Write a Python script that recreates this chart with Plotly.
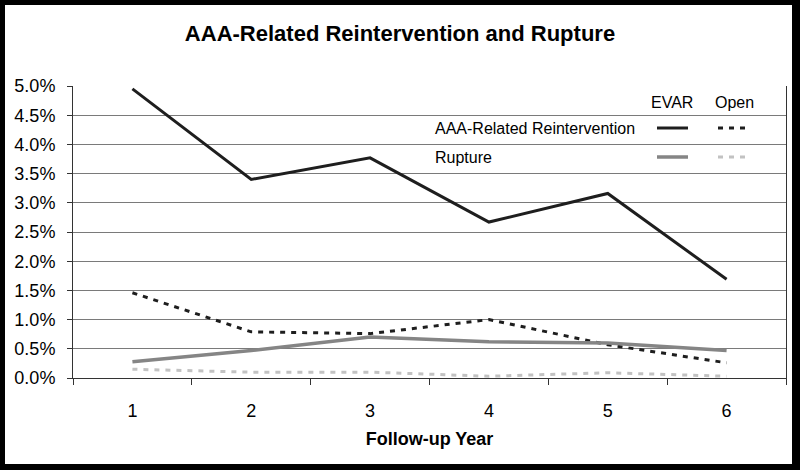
import plotly.graph_objects as go

years = ["1", "2", "3", "4", "5", "6"]
evar_reint = [4.95, 3.40, 3.77, 2.67, 3.16, 1.69]
open_reint = [1.46, 0.79, 0.76, 1.00, 0.57, 0.26]
evar_rupture = [0.28, 0.47, 0.70, 0.62, 0.60, 0.47]
open_rupture = [0.15, 0.10, 0.10, 0.03, 0.09, 0.03]
y_ticks = [0, 0.5, 1.0, 1.5, 2.0, 2.5, 3.0, 3.5, 4.0, 4.5, 5.0]
y_ticklabels = [f"{v:.1f}%" for v in y_ticks]

W, H = 800, 470
ML, MR, MT, MB = 73, 14, 86, 92
PW, PH = W - ML - MR, H - MT - MB

def px_x(p):
    return (p - ML) / PW

def px_y(p):
    return (H - MB - p) / PH

FONT = "Liberation Sans, Arial, sans-serif"

fig = go.Figure()
fig.add_trace(go.Scatter(x=years, y=evar_reint, mode="lines",
                         line=dict(color="#1e1e1e", width=3), name="EVAR reintervention"))
fig.add_trace(go.Scatter(x=years, y=open_reint, mode="lines",
                         line=dict(color="#1e1e1e", width=3, dash="5px,6px"), name="Open reintervention"))
fig.add_trace(go.Scatter(x=years, y=evar_rupture, mode="lines",
                         line=dict(color="#858585", width=3.5), name="EVAR rupture"))
fig.add_trace(go.Scatter(x=years, y=open_rupture, mode="lines",
                         line=dict(color="#c2c2c2", width=3, dash="5px,6px"), name="Open rupture"))

shapes = [
    # white page inside black frame
    dict(type="rect", xref="paper", yref="paper", layer="below",
         x0=px_x(5), x1=px_x(792), y0=px_y(464), y1=px_y(5),
         fillcolor="white", line=dict(width=0)),
    # legend samples
    dict(type="line", xref="paper", yref="paper", x0=px_x(657), x1=px_x(688),
         y0=px_y(128), y1=px_y(128), line=dict(color="#1e1e1e", width=3)),
    dict(type="line", xref="paper", yref="paper", x0=px_x(718), x1=px_x(750),
         y0=px_y(128), y1=px_y(128), line=dict(color="#1e1e1e", width=3, dash="5px,6px")),
    dict(type="line", xref="paper", yref="paper", x0=px_x(657), x1=px_x(688),
         y0=px_y(157), y1=px_y(157), line=dict(color="#858585", width=3.5)),
    dict(type="line", xref="paper", yref="paper", x0=px_x(718), x1=px_x(750),
         y0=px_y(157), y1=px_y(157), line=dict(color="#c2c2c2", width=3, dash="5px,6px")),
]

annotations = [
    dict(text="EVAR", x=px_x(672), y=px_y(102), xref="paper", yref="paper",
         showarrow=False, xanchor="center", yanchor="middle", font=dict(size=16, color="black", family=FONT)),
    dict(text="Open", x=px_x(734), y=px_y(102), xref="paper", yref="paper",
         showarrow=False, xanchor="center", yanchor="middle", font=dict(size=16, color="black", family=FONT)),
    dict(text="AAA-Related Reintervention", x=px_x(433), y=px_y(128), xref="paper", yref="paper",
         showarrow=False, xanchor="left", yanchor="middle", font=dict(size=16, color="black", family=FONT)),
    dict(text="Rupture", x=px_x(433), y=px_y(157), xref="paper", yref="paper",
         showarrow=False, xanchor="left", yanchor="middle", font=dict(size=16, color="black", family=FONT)),
]

fig.update_layout(
    width=W, height=H,
    margin=dict(l=ML, r=MR, t=MT, b=MB, pad=0),
    paper_bgcolor="black", plot_bgcolor="white",
    showlegend=False,
    title=dict(text="<b>AAA-Related Reintervention and Rupture</b>",
               xref="paper", x=(400 - ML) / PW, xanchor="center",
               y=1 - 33 / H, yanchor="middle",
               font=dict(size=22, color="black", family=FONT)),
    font=dict(family=FONT, color="black"),
    shapes=shapes, annotations=annotations,
)

fig.update_xaxes(type="category", range=[-0.5, 5.5], tickson="boundaries",
                 ticks="outside", ticklen=6, tickcolor="#333333",
                 showline=True, linecolor="#333333", linewidth=1,
                 showgrid=False, zeroline=False, ticklabelstandoff=16,
                 tickfont=dict(size=18, color="black", family=FONT),
                 title=dict(text="<b>Follow-up Year</b>", standoff=12,
                            font=dict(size=18, color="black", family=FONT)))
fig.update_yaxes(range=[0, 5.0], tickvals=y_ticks, ticktext=y_ticklabels,
                 ticks="outside", ticklen=5, tickcolor="#333333",
                 showline=True, linecolor="#333333", linewidth=1, mirror=True,
                 showgrid=True, gridcolor="#7a7a7a", gridwidth=1,
                 zeroline=False, ticklabelstandoff=8,
                 tickfont=dict(size=18, color="black", family=FONT))

fig.write_html("out.html", config={"displayModeBar": False},
               post_script="document.body.style.margin='0';")
